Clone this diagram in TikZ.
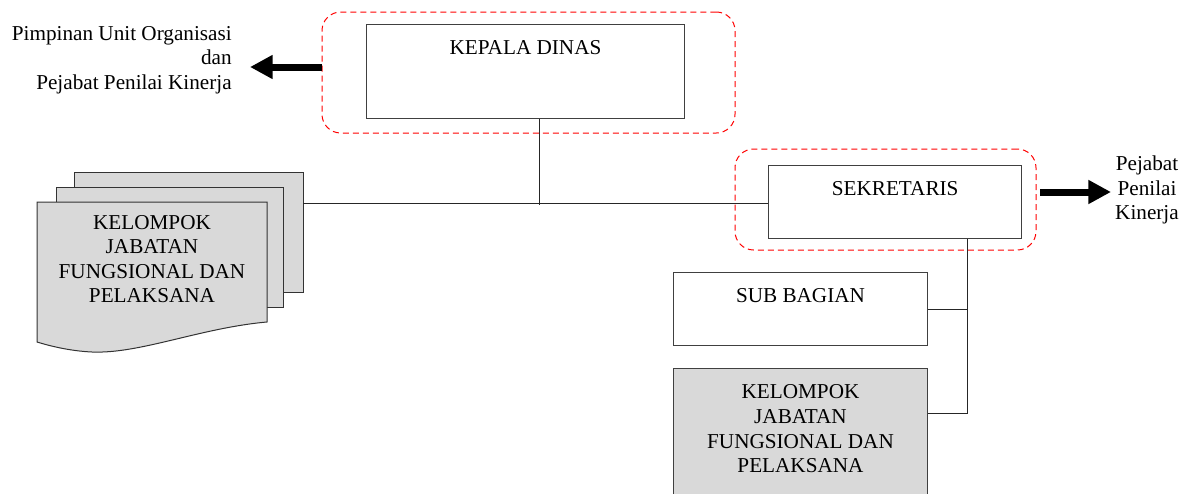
\documentclass[tikz,border=0pt]{standalone}
\usepackage{fontspec}
\setmainfont{Liberation Serif}
\usetikzlibrary{positioning,arrows.meta}

\begin{document}
\begin{tikzpicture}[x=0.75pt, y=-0.75pt,
    box/.style={draw=black!75, line width=0.75pt, anchor=north west, inner sep=0pt},
    frame/.style={draw=red, dashed, dash pattern=on 4.5pt off 3pt, line width=0.75pt, rounded corners=14pt, inner sep=0pt},
    lbl/.style={font=\fontsize{15.9pt}{18.4pt}\selectfont, align=center, inner sep=0pt},
    conn/.style={draw=black!85, line width=0.75pt},
    bigarrow/.style={line width=5.25pt, -{Triangle[length=17pt, width=17pt]}},
    sheet/.style={draw=black!80, line width=0.75pt, fill=black!15}]

    \useasboundingbox (0,0) rectangle (1193,493);
    \clip (0,0) rectangle (1193,493);

    % Kepala dinas with its red dashed frame
    \node[frame, minimum width=309.75pt, minimum height=90.75pt] (kepalaFrame) at (528.5,72.5) {};
    \node[box, minimum width=238.5pt, minimum height=70.5pt] (kepala) at (366,24) {};
    \node[lbl, below=12.5pt of kepala.north] (kepalaLbl) {KEPALA DINAS};

    % Sekretaris with its red dashed frame
    \node[frame, minimum width=225.75pt, minimum height=75.75pt] (sekreFrame) at (885.5,199.5) {};
    \node[box, minimum width=190pt, minimum height=55pt] (sekre) at (768,165) {};
    \node[lbl, below=12pt of sekre.north] (sekreLbl) {SEKRETARIS};

    % Boxes under the sekretaris
    \node[box, minimum width=190.5pt, minimum height=54.75pt] (sub) at (673,272) {};
    \node[lbl, below=12.5pt of sub.north] (subLbl) {SUB BAGIAN};
    \node[box, fill=black!15, minimum width=190.5pt, minimum height=105pt] (klp) at (673,368) {};
    \node[lbl, below=12.5pt of klp.north] (klpLbl) {KELOMPOK\\JABATAN\\FUNGSIONAL DAN\\PELAKSANA};

    % Stacked sheets on the left
    \draw[sheet] (74,172) rectangle (303,292);
    \draw[sheet] (56,187) rectangle (283,307);
    \draw[sheet] (37,202) -- (267,202) -- (267,322)
        .. controls (200,328) and (140,354) .. (92,352)
        .. controls (70,351) and (50,346) .. (37,342) -- cycle;
    \node[lbl] (stackLbl) at (152,259) {KELOMPOK\\JABATAN\\FUNGSIONAL DAN\\PELAKSANA};

    % Lines between the units
    \coordinate (stackR) at (303,203);
    \coordinate (j1) at (539,205);
    \coordinate (j2) at (967,413);
    \draw[conn] (stackR) -- (stackR -| sekre.west);
    \draw[conn] (j1 |- kepala.south) -- (j1);
    \draw[conn] (j2 |- sekre.south) -- (j2) -- (j2 -| klp.east);
    \draw[conn] (sub.east) -- (sub.east -| j2);

    % Thick arrows to the appraisers
    \coordinate (leftEnd) at (250,67);
    \coordinate (rightStart) at (1040,192);
    \coordinate (rightEnd) at (1111,192);
    \draw[bigarrow] (kepalaFrame.west |- leftEnd) -- (leftEnd);
    \draw[bigarrow] (rightStart) -- (rightEnd);
    \node[lbl, align=right, anchor=east] (leftLbl) at (232,60) {Pimpinan Unit Organisasi\\dan\\Pejabat Penilai Kinerja};
    \node[lbl] (rightLbl) at (1147,190) {Pejabat\\Penilai\\Kinerja};

\end{tikzpicture}
\end{document}
